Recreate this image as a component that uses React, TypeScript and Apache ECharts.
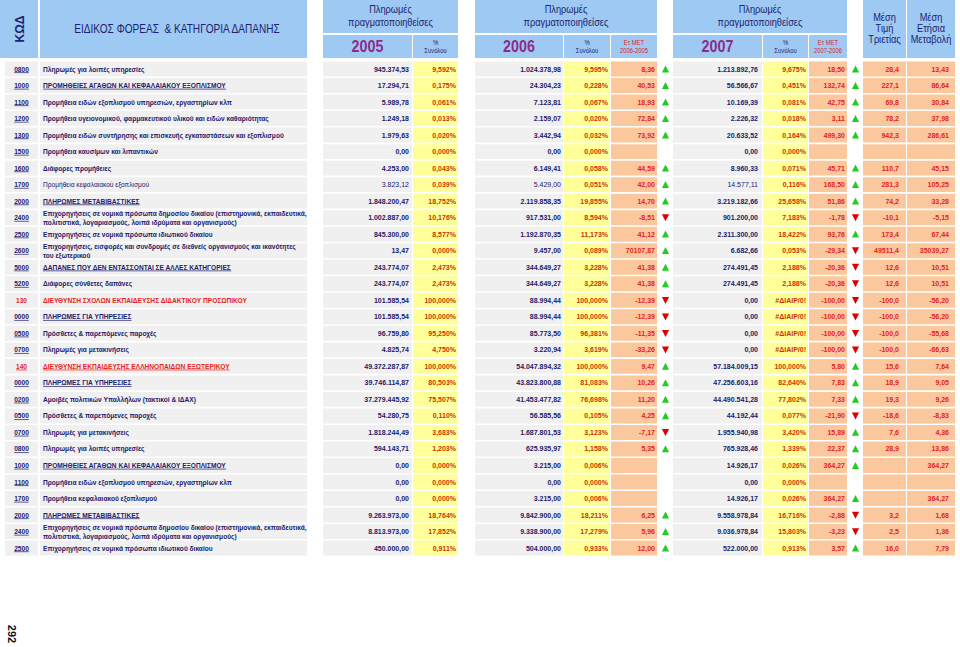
import React, { useEffect, useRef } from "react";
import * as echarts from "echarts";

// ---------------- DATA ----------------
const codes = [
  "0800", "1000", "1100", "1200", "1300", "1500", "1600", "1700", "2000", "2400",
  "2500", "2600", "5000", "5200", "130", "0000", "0500", "0700", "140", "0000",
  "0200", "0500", "0700", "0800", "1000", "1100", "1700", "2000", "2400", "2500",
];

const descriptions = [
  "Πληρωμές για λοιπές υπηρεσίες",
  "ΠΡΟΜΗΘΕΙΕΣ ΑΓΑΘΩΝ ΚΑΙ ΚΕΦΑΛΑΙΑΚΟΥ ΕΞΟΠΛΙΣΜΟΥ",
  "Προμήθεια ειδών εξοπλισμού υπηρεσιών, εργαστηρίων κλπ",
  "Προμήθεια υγειονομικού, φαρμακευτικού υλικού και ειδών καθαριότητας",
  "Προμήθεια ειδών συντήρησης και επισκευής εγκαταστάσεων και εξοπλισμού",
  "Προμήθεια καυσίμων και λιπαντικών",
  "Διάφορες προμήθειες",
  "Προμήθεια κεφαλαιακού εξοπλισμού",
  "ΠΛΗΡΩΜΕΣ ΜΕΤΑΒΙΒΑΣΤΙΚΕΣ",
  "Επιχορηγήσεις σε νομικά πρόσωπα δημοσίου δικαίου (επιστημονικά, εκπαιδευτικά,\nπολιτιστικά, λογαριασμούς, λοιπά ιδρύματα και οργανισμούς)",
  "Επιχορηγήσεις σε νομικά πρόσωπα ιδιωτικού δικαίου",
  "Επιχορηγήσεις, εισφορές και συνδρομές σε διεθνείς οργανισμούς και ικανότητες\nτου εξωτερικού",
  "ΔΑΠΑΝΕΣ ΠΟΥ ΔΕΝ ΕΝΤΑΣΣΟΝΤΑΙ ΣΕ ΑΛΛΕΣ ΚΑΤΗΓΟΡΙΕΣ",
  "Διάφορες σύνθετες δαπάνες",
  "ΔΙΕΥΘΥΝΣΗ ΣΧΟΛΩΝ ΕΚΠΑΙΔΕΥΣΗΣ ΔΙΔΑΚΤΙΚΟΥ ΠΡΟΣΩΠΙΚΟΥ",
  "ΠΛΗΡΩΜΕΣ ΓΙΑ ΥΠΗΡΕΣΙΕΣ",
  "Πρόσθετες & παρεπόμενες παροχές",
  "Πληρωμές για μετακινήσεις",
  "ΔΙΕΥΘΥΝΣΗ ΕΚΠΑΙΔΕΥΣΗΣ ΕΛΛΗΝΟΠΑΙΔΩΝ ΕΞΩΤΕΡΙΚΟΥ",
  "ΠΛΗΡΩΜΕΣ ΓΙΑ ΥΠΗΡΕΣΙΕΣ",
  "Αμοιβές πολιτικών Υπαλλήλων (τακτικοί & ΙΔΑΧ)",
  "Πρόσθετες & παρεπόμενες παροχές",
  "Πληρωμές για μετακινήσεις",
  "Πληρωμές για λοιπές υπηρεσίες",
  "ΠΡΟΜΗΘΕΙΕΣ ΑΓΑΘΩΝ ΚΑΙ ΚΕΦΑΛΑΙΑΚΟΥ ΕΞΟΠΛΙΣΜΟΥ",
  "Προμήθεια ειδών εξοπλισμού υπηρεσιών, εργαστηρίων κλπ",
  "Προμήθεια κεφαλαιακού εξοπλισμού",
  "ΠΛΗΡΩΜΕΣ ΜΕΤΑΒΙΒΑΣΤΙΚΕΣ",
  "Επιχορηγήσεις σε νομικά πρόσωπα δημοσίου δικαίου (επιστημονικά, εκπαιδευτικά,\nπολιτιστικά, λογαριασμούς, λοιπά ιδρύματα και οργανισμούς)",
  "Επιχορηγήσεις σε νομικά πρόσωπα ιδιωτικού δικαίου",
];

const paid2005 = [
  "945.374,53", "17.294,71", "5.989,78", "1.249,18", "1.979,63", "0,00", "4.253,00", "3.823,12", "1.848.200,47", "1.002.887,00",
  "845.300,00", "13,47", "243.774,07", "243.774,07", "101.585,54", "101.585,54", "96.759,80", "4.825,74", "49.372.287,87", "39.746.114,87",
  "37.279.445,92", "54.280,75", "1.818.244,49", "594.143,71", "0,00", "0,00", "0,00", "9.263.973,00", "8.813.973,00", "450.000,00",
];
const share2005 = [
  "9,592%", "0,175%", "0,061%", "0,013%", "0,020%", "0,000%", "0,043%", "0,039%", "18,752%", "10,176%",
  "8,577%", "0,000%", "2,473%", "2,473%", "100,000%", "100,000%", "95,250%", "4,750%", "100,000%", "80,503%",
  "75,507%", "0,110%", "3,683%", "1,203%", "0,000%", "0,000%", "0,000%", "18,764%", "17,852%", "0,911%",
];
const paid2006 = [
  "1.024.378,98", "24.304,23", "7.123,81", "2.159,07", "3.442,94", "0,00", "6.149,41", "5.429,00", "2.119.858,35", "917.531,00",
  "1.192.870,35", "9.457,00", "344.649,27", "344.649,27", "88.994,44", "88.994,44", "85.773,50", "3.220,94", "54.047.894,32", "43.823.800,88",
  "41.453.477,82", "56.585,56", "1.687.801,53", "625.935,97", "3.215,00", "0,00", "3.215,00", "9.842.900,00", "9.338.900,00", "504.000,00",
];
const share2006 = [
  "9,595%", "0,228%", "0,067%", "0,020%", "0,032%", "0,000%", "0,058%", "0,051%", "19,855%", "8,594%",
  "11,173%", "0,089%", "3,228%", "3,228%", "100,000%", "100,000%", "96,381%", "3,619%", "100,000%", "81,083%",
  "76,698%", "0,105%", "3,123%", "1,158%", "0,006%", "0,000%", "0,006%", "18,211%", "17,279%", "0,933%",
];
const change2006 = [
  "8,36", "40,53", "18,93", "72,84", "73,92", "", "44,59", "42,00", "14,70", "-8,51",
  "41,12", "70107,87", "41,38", "41,38", "-12,39", "-12,39", "-11,35", "-33,26", "9,47", "10,26",
  "11,20", "4,25", "-7,17", "5,35", "", "", "", "6,25", "5,96", "12,00",
];
const paid2007 = [
  "1.213.892,76", "56.566,67", "10.169,39", "2.226,32", "20.633,52", "0,00", "8.960,33", "14.577,11", "3.219.182,66", "901.200,00",
  "2.311.300,00", "6.682,66", "274.491,45", "274.491,45", "0,00", "0,00", "0,00", "0,00", "57.184.009,15", "47.256.603,16",
  "44.490.541,28", "44.192,44", "1.955.940,98", "765.928,46", "14.926,17", "0,00", "14.926,17", "9.558.978,84", "9.036.978,84", "522.000,00",
];
const share2007 = [
  "9,675%", "0,451%", "0,081%", "0,018%", "0,164%", "0,000%", "0,071%", "0,116%", "25,658%", "7,183%",
  "18,422%", "0,053%", "2,188%", "2,188%", "#ΔΙΑΙΡ/0!", "#ΔΙΑΙΡ/0!", "#ΔΙΑΙΡ/0!", "#ΔΙΑΙΡ/0!", "100,000%", "82,640%",
  "77,802%", "0,077%", "3,420%", "1,339%", "0,026%", "0,000%", "0,026%", "16,716%", "15,803%", "0,913%",
];
const change2007 = [
  "18,50", "132,74", "42,75", "3,11", "499,30", "", "45,71", "168,50", "51,86", "-1,78",
  "93,76", "-29,34", "-20,36", "-20,36", "-100,00", "-100,00", "-100,00", "-100,00", "5,80", "7,83",
  "7,33", "-21,90", "15,89", "22,37", "364,27", "", "364,27", "-2,88", "-3,23", "3,57",
];
const avg3Years = [
  "28,4", "227,1", "69,8", "78,2", "942,3", "", "110,7", "281,3", "74,2", "-10,1",
  "173,4", "49511,4", "12,6", "12,6", "-100,0", "-100,0", "-100,0", "-100,0", "15,6", "18,9",
  "19,3", "-18,6", "7,6", "28,9", "", "", "", "3,2", "2,5", "16,0",
];
const avgAnnualChange = [
  "13,43", "86,64", "30,84", "37,98", "286,61", "", "45,15", "105,25", "33,28", "-5,15",
  "67,44", "35039,27", "10,51", "10,51", "-56,20", "-56,20", "-55,68", "-66,63", "7,64", "9,05",
  "9,26", "-8,83", "4,36", "13,86", "364,27", "", "364,27", "1,68", "1,36", "7,79",
];

const yearLabels = ["2005", "2006", "2007"];
const changeLabels = ["2006-2005", "2007-2006"];
const pageNumber = "292";

// row kinds (indices)
const groupRows = [1, 8, 12, 15, 18, 19, 24, 27];
const directorateRows = [14, 18];
const lightRows = [7];

// ---------------- STYLE / LAYOUT ----------------
const SANS = '"Liberation Sans", Arial, Helvetica, sans-serif';
const NARROW = '"Liberation Sans Narrow", "Arial Narrow", "Liberation Sans", Arial, sans-serif';
const C = {
  head: "#9ec9f3",
  navy: "#1d206b",
  headNavy: "#1c2270",
  purple: "#8e2a8e",
  gray: "#f0f0f0",
  yellow: "#ffff99",
  peach: "#fbc89d",
  pct: "#cc3300",
  red: "#e3231b",
  up: "#22cc22",
  down: "#dd0000",
};
const COL = {
  code: [5, 38],
  desc: [40, 307],
  v5: [323, 412],
  p5: [413, 458],
  v6: [475, 563],
  p6: [564, 610],
  e6: [611, 657],
  a6: 665.5,
  v7: [673, 762],
  p7: [763, 808],
  e7: [809, 847],
  a7: 855.5,
  m3: [863, 906],
  ma: [907, 955],
};
const DESC_SIZE = 6.6;
const NUM_SIZE = 7;
const HEAD_SCALE_X = 0.84;

let measureCtx: CanvasRenderingContext2D | null = null;
function textWidth(s: string, font: string): number {
  if (!measureCtx) measureCtx = document.createElement("canvas").getContext("2d");
  if (!measureCtx) return s.length * 4;
  measureCtx.font = font;
  return measureCtx.measureText(s).width;
}

function renderRow(_params: any, api: any) {
  const i = api.value(1) as number;
  const cy = api.coord([0, i])[1];
  const band = api.size([0, 1])[1];
  const h = band - 1.6;
  const y0 = cy - h / 2;
  const ch: any[] = [];
  const cell = (c: number[], fill: string) =>
    ch.push({ type: "rect", shape: { x: c[0], y: y0, width: c[1] - c[0], height: h }, style: { fill } });
  const txt = (s: string, x: number, align: string, color: string, size: number, weight: string, lh?: number) => {
    if (!s) return;
    ch.push({
      type: "text",
      style: {
        text: s, x, y: cy, align, verticalAlign: "middle", textAlign: align, textVerticalAlign: "middle",
        fill: color, fontSize: size, fontWeight: weight, fontFamily: SANS, lineHeight: lh || size + 2,
      },
    });
  };
  const underline = (x: number, w: number, color: string) =>
    ch.push({ type: "line", shape: { x1: x, y1: cy + 3.6, x2: x + w, y2: cy + 3.6 }, style: { stroke: color, lineWidth: 0.7 } });
  const arrow = (x: number, v: string) => {
    if (!v) return;
    const neg = v.trim().startsWith("-");
    const pts = neg
      ? [[x - 3.6, cy - 3.4], [x + 3.6, cy - 3.4], [x, cy + 3.6]]
      : [[x - 3.6, cy + 3.4], [x + 3.6, cy + 3.4], [x, cy - 3.6]];
    ch.push({ type: "polygon", shape: { points: pts }, style: { fill: neg ? C.down : C.up } });
  };

  [COL.code, COL.desc, COL.v5, COL.v6, COL.v7].forEach((c) => cell(c, C.gray));
  [COL.p5, COL.p6, COL.p7].forEach((c) => cell(c, C.yellow));
  [COL.e6, COL.e7, COL.m3, COL.ma].forEach((c) => cell(c, C.peach));

  const isDir = directorateRows.includes(i);
  const isGroup = groupRows.includes(i);
  const isLight = lightRows.includes(i);
  const textColor = isDir ? C.red : C.navy;
  const w = isLight ? "normal" : "bold";

  // code
  const codeX = (COL.code[0] + COL.code[1]) / 2;
  txt(codes[i], codeX, "center", textColor, DESC_SIZE, "bold");
  if (i !== 14) {
    const cw = textWidth(codes[i], `bold ${DESC_SIZE}px ${SANS}`);
    underline(codeX - cw / 2, cw, textColor);
  }
  // description
  const dx = COL.desc[0] + 3;
  txt(descriptions[i], dx, "left", textColor, DESC_SIZE, w, 9);
  if (isGroup) {
    const dw = textWidth(descriptions[i], `${w} ${DESC_SIZE}px ${SANS}`);
    underline(dx, dw, textColor);
  }
  // numbers
  txt(paid2005[i], COL.v5[1] - 3, "right", C.navy, NUM_SIZE, w);
  txt(share2005[i], COL.p5[1] - 2, "right", C.pct, NUM_SIZE, "bold");
  txt(paid2006[i], COL.v6[1] - 2, "right", C.navy, NUM_SIZE, w);
  txt(share2006[i], COL.p6[1] - 2, "right", C.pct, NUM_SIZE, "bold");
  txt(change2006[i], COL.e6[1] - 2, "right", C.red, NUM_SIZE, "bold");
  arrow(COL.a6, change2006[i]);
  txt(paid2007[i], COL.v7[1] - 4, "right", C.navy, NUM_SIZE, w);
  txt(share2007[i], COL.p7[1] - 2, "right", C.pct, NUM_SIZE, "bold");
  txt(change2007[i], COL.e7[1] - 2, "right", C.red, NUM_SIZE, "bold");
  arrow(COL.a7, change2007[i]);
  txt(avg3Years[i], COL.m3[1] - 7, "right", C.red, NUM_SIZE, "bold");
  txt(avgAnnualChange[i], COL.ma[1] - 6, "right", C.red, NUM_SIZE, "bold");

  return { type: "group", children: ch };
}

function buildHeader(): any[] {
  const g: any[] = [];
  const rect = (x0: number, y0: number, x1: number, y1: number) =>
    g.push({ type: "rect", silent: true, shape: { x: x0, y: y0, width: x1 - x0, height: y1 - y0 }, style: { fill: C.head } });
  const text = (
    s: string, x: number, y: number, size: number, color: string, weight: string, family: string,
    rotation = 0, scaleX = HEAD_SCALE_X,
  ) =>
    g.push({
      type: "text", silent: true, x, y, rotation, scaleX,
      style: {
        text: s, x: 0, y: 0, align: "center", verticalAlign: "middle", textAlign: "center", textVerticalAlign: "middle",
        fill: color, fontSize: size, fontWeight: weight, fontFamily: family,
      },
    });

  rect(0, 0, 38, 58);
  text("ΚΩΔ", 20, 29, 12, C.headNavy, "bold", NARROW, Math.PI / 2, 1);
  rect(40, 0, 307, 58);
  text("ΕΙΔΙΚΟΣ ΦΟΡΕΑΣ  & ΚΑΤΗΓΟΡΙΑ ΔΑΠΑΝΗΣ", 177, 29, 12, C.headNavy, "normal", NARROW);

  const blocks = [
    { top: [COL.v5[0], COL.p5[1]], v: COL.v5, p: COL.p5, e: null as number[] | null },
    { top: [COL.v6[0], COL.e6[1]], v: COL.v6, p: COL.p6, e: COL.e6 },
    { top: [COL.v7[0], COL.e7[1]], v: COL.v7, p: COL.p7, e: COL.e7 },
  ];
  blocks.forEach((b, k) => {
    rect(b.top[0], 0, b.top[1], 33);
    const cx = (b.top[0] + b.top[1]) / 2;
    text("Πληρωμές", cx, 9.5, 11, C.headNavy, "normal", NARROW);
    text("πραγματοποιηθείσες", cx, 22, 11, C.headNavy, "normal", NARROW);
    rect(b.v[0], 35, b.v[1], 58);
    text(yearLabels[k], (b.v[0] + b.v[1]) / 2, 46.5, 17, C.purple, "bold", NARROW);
    rect(b.p[0], 35, b.p[1], 58);
    const px = (b.p[0] + b.p[1]) / 2;
    text("%", px, 42, 7, C.headNavy, "normal", NARROW);
    text("Συνόλου", px, 50.5, 7, C.headNavy, "normal", NARROW);
    if (b.e) {
      rect(b.e[0], 35, b.e[1], 58);
      const ex = (b.e[0] + b.e[1]) / 2;
      text("Ετ ΜΕΤ", ex, 42, 7, C.red, "normal", NARROW);
      text(changeLabels[k - 1], ex, 50.5, 7, C.red, "normal", NARROW);
    }
  });

  rect(COL.m3[0], 0, COL.m3[1], 58);
  rect(COL.ma[0], 0, COL.ma[1], 58);
  const m3x = (COL.m3[0] + COL.m3[1]) / 2;
  const max = (COL.ma[0] + COL.ma[1]) / 2;
  ["Μέση", "Τιμή", "Τριετίας"].forEach((s, j) => text(s, m3x, 17 + j * 11, 11, C.headNavy, "normal", NARROW));
  ["Μέση", "Ετήσια", "Μεταβολή"].forEach((s, j) => text(s, max, 17 + j * 11, 11, C.headNavy, "normal", NARROW));

  text(pageNumber, 12, 634, 11, "#111111", "bold", SANS, -Math.PI / 2, 1);
  return g;
}

export default function App() {
  const ref = useRef<HTMLDivElement>(null);
  useEffect(() => {
    if (!ref.current) return;
    const chart = echarts.init(ref.current, null, { renderer: "svg" });
    const rowKeys = codes.map((c, i) => `${i + 1}-${c}`);
    chart.setOption({
      animation: false,
      backgroundColor: "#ffffff",
      grid: { left: 0, right: 0, top: 60.74, height: 495.6 },
      xAxis: { type: "value", min: 0, max: 1, show: false },
      yAxis: { type: "category", data: rowKeys, inverse: true, show: false },
      graphic: buildHeader(),
      series: [
        {
          type: "custom",
          silent: true,
          clip: false,
          renderItem: renderRow,
          data: rowKeys.map((_, i) => [0, i]),
        },
      ],
    });
    return () => chart.dispose();
  }, []);
  return (
    <div
      ref={ref}
      style={{ position: "absolute", left: 0, top: 0, width: 960, height: 647, background: "#fff" }}
    />
  );
}
